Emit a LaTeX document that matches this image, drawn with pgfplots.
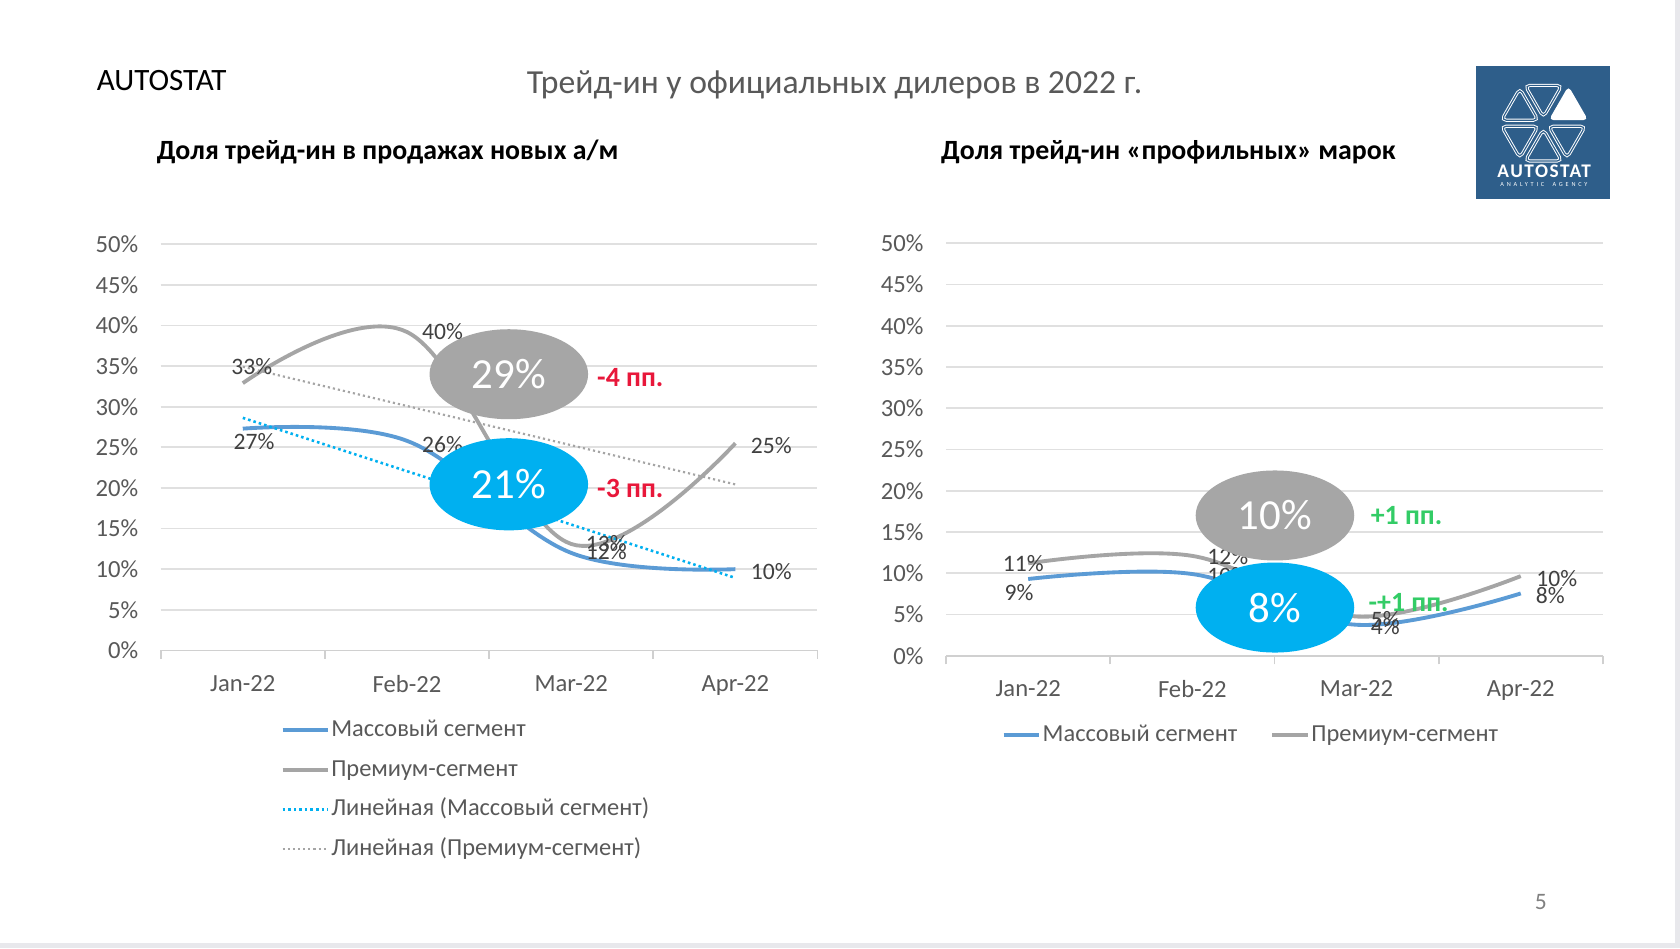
\documentclass[border=0pt]{standalone}
\usepackage{fontspec}
\setmainfont{Carlito}
\usepackage{pgfplots}
\pgfplotsset{compat=1.18}
\usetikzlibrary{calc}

\definecolor{massblue}{HTML}{5B9BD5}
\definecolor{premgrey}{HTML}{A5A5A5}
\definecolor{trendblue}{HTML}{00B0F0}
\definecolor{bubgrey}{HTML}{A6A6A6}
\definecolor{bubblue}{HTML}{00B0F0}
\definecolor{ticktext}{HTML}{595959}
\definecolor{labeltext}{HTML}{404040}
\definecolor{gridc}{HTML}{E0E0E0}
\definecolor{axisc}{HTML}{D0D0D0}
\definecolor{redt}{HTML}{E8173A}
\definecolor{greent}{HTML}{33CC66}
\definecolor{logoblue}{HTML}{2E5E8A}
\definecolor{framec}{HTML}{E8E8EC}

\pgfplotsset{
  mystyle/.style={
    scale only axis, width=306.5pt,
    xmin=0.5, xmax=4.5, ymin=0, ymax=50,
    axis x line*=bottom, axis y line*=left,
    y axis line style={draw=none},
    x axis line style={draw=axisc, line width=0.8pt},
    ytick={0,5,...,50},
    yticklabel={\pgfmathprintnumber{\tick}\%},
    xtick={1,2,3,4},
    xticklabels={Jan-22,Feb-22,Mar-22,Apr-22},
    minor xtick={0.5,1.5,2.5,3.5,4.5},
    major tick length=0pt, minor tick length=4pt, tick align=outside,
    tick style={draw=axisc, line width=0.8pt},
    ymajorgrids, grid style={draw=gridc, line width=0.8pt},
    tick label style={font=\fontsize{11.5}{13}\selectfont, text=ticktext},
    /pgf/number format/assume math mode=true,
    yticklabel style={xshift=-7pt},
    xticklabel style={yshift=-8pt},
    clip=false,
    legend style={draw=none, fill=none, inner sep=0pt, outer sep=0pt,
      font=\fontsize{11.4}{14}\selectfont, text=ticktext,
      nodes={inner sep=0pt, text height=8.5pt, text depth=2.5pt}},
    legend cell align=left,
  },
}
\tikzset{
  lbl/.style={font=\fontsize{11}{13}\selectfont, text=labeltext, inner sep=0pt},
  bubtxt/.style={font=\fontsize{20}{24}\selectfont, text=white, inner sep=0pt},
  dtxt/.style={font=\bfseries\fontsize{13}{15}\selectfont, inner sep=0pt, anchor=west},
}

\begin{document}
\begin{tikzpicture}
\useasboundingbox (0pt,0pt) rectangle (784pt,442.5pt);
\fill[framec] (0pt,0pt) rectangle (784pt,442.5pt);
\fill[white] (0pt,2.5pt) rectangle (781.5pt,442.5pt);

% titles
\node[anchor=west, inner sep=0pt, font=\fontsize{14.5}{18}\selectfont] at (45pt,405pt) {AUTOSTAT};
\node[inner sep=0pt, text=ticktext, font=\fontsize{15.7}{18}\selectfont] at (389.5pt,403pt) {Трейд-ин у официальных дилеров в 2022 г.};
\node[anchor=west, inner sep=0pt, font=\bfseries\fontsize{13}{15}\selectfont] at (73pt,371.5pt) {Доля трейд-ин в продажах новых а/м};
\node[anchor=west, inner sep=0pt, font=\bfseries\fontsize{13}{15}\selectfont] at (439pt,371.5pt) {Доля трейд-ин «профильных» марок};
\node[inner sep=0pt, text=gray, font=\fontsize{11}{13}\selectfont] at (719pt,21.5pt) {5};

% logo
\fill[logoblue] (689pt,349.5pt) rectangle (751.5pt,411.5pt);
\foreach \m in {90,150,210,270,330} {
  \draw[white, line width=0.45pt, double=logoblue, double distance=0.55pt, rounded corners=2.2pt]
    (720.25pt,385pt) ++(\m:12.7pt) +(\m+180:9.9pt) -- +(\m+60:9.9pt) -- +(\m-60:9.9pt) -- cycle;
}
\fill[white, rounded corners=2.2pt]
    (720.25pt,385pt) ++(30:13.5pt) +(210:10.6pt) -- +(90:10.6pt) -- +(-30:10.6pt) -- cycle;
\node[inner sep=0pt, text=white, font=\bfseries\fontsize{9}{10}\selectfont\addfontfeature{LetterSpace=8}] at (720.6pt,362.4pt) {AUTOSTAT};
\node[inner sep=0pt, text=white, font=\fontsize{2.9}{3}\selectfont\addfontfeature{LetterSpace=45}] at (720.5pt,356.6pt) {ANALYTIC\ \ AGENCY};

% left chart
\begin{axis}[mystyle, at={(75pt,139pt)}, anchor=south west, height=189.5pt,
  legend image code/.code={\draw[#1] (0pt,0pt) -- (21pt,0pt);},
  legend style={at={(0.1827,-0.167)}, anchor=north west, row sep=7.5pt,
    /tikz/every odd column/.style={column sep=0.8pt}}]
\addplot[massblue, line width=1.8pt, smooth, tension=0.6] coordinates {(1,27.3) (2,25.8) (3,12.0) (4,10.0)};
\addlegendentry{Массовый сегмент}
\addplot[premgrey, line width=1.8pt, smooth, tension=0.6] coordinates {(1,32.9) (2,39.2) (3,13.1) (4,25.5)};
\addlegendentry{Премиум-сегмент}
\addplot[trendblue, line width=1.2pt, dash pattern=on 1.2pt off 1.4pt] coordinates {(1,28.63) (4,8.92)};
\addlegendentry{Линейная (Массовый сегмент)}
\addplot[premgrey, line width=1pt, dash pattern=on 1pt off 1.4pt] coordinates {(1,34.92) (4,20.43)};
\addlegendentry{Линейная (Премиум-сегмент)}
\node[lbl] at (axis cs:1.055,34.96) {33\%};
\node[lbl] at (axis cs:1.068,25.73) {27\%};
\node[lbl] at (axis cs:2.216,39.3) {40\%};
\node[lbl] at (axis cs:2.216,25.3) {26\%};
\node[lbl] at (axis cs:3.214,13.19) {13\%};
\node[lbl] at (axis cs:3.214,12.14) {12\%};
\node[lbl] at (axis cs:4.219,25.2) {25\%};
\node[lbl] at (axis cs:4.219,9.76) {10\%};
\fill[bubgrey] (axis cs:2.62,34.0) ellipse [x radius=37pt, y radius=21pt];
\node[bubtxt] at (axis cs:2.62,34.0) {29\%};
\fill[bubblue] (axis cs:2.62,20.45) ellipse [x radius=37pt, y radius=21.5pt];
\node[bubtxt] at (axis cs:2.62,20.45) {21\%};
\node[dtxt, text=redt] at (axis cs:3.156,33.64) {-4 пп.};
\node[dtxt, text=redt] at (axis cs:3.156,19.92) {-3 пп.};
\end{axis}

% right chart
\begin{axis}[mystyle, at={(441.5pt,136.5pt)}, anchor=south west, height=192.5pt,
  legend columns=2,
  legend image code/.code={\draw[#1] (0pt,0pt) -- (16.5pt,0pt);},
  legend style={at={(0.0848,-0.164)}, anchor=north west,
    /tikz/every odd column/.style={column sep=0.8pt},
    /tikz/every even column/.style={column sep=15.5pt}}]
\addplot[massblue, line width=1.8pt, smooth, tension=0.6] coordinates {(1,9.3) (2,9.9) (3,3.75) (4,7.55)};
\addlegendentry{Массовый сегмент}
\addplot[premgrey, line width=1.8pt, smooth, tension=0.6] coordinates {(1,11.2) (2,12.1) (3,4.75) (4,9.65)};
\addlegendentry{Премиум-сегмент}
\node[lbl] at (axis cs:0.970,11.17) {11\%};
\node[lbl] at (axis cs:0.944,7.66) {9\%};
\node[lbl] at (axis cs:2.216,12.08) {12\%};
\node[lbl] at (axis cs:2.216,9.74) {10\%};
\node[lbl] at (axis cs:3.175,4.42) {5\%};
\node[lbl] at (axis cs:3.175,3.5) {4\%};
\node[lbl] at (axis cs:4.219,9.35) {10\%};
\node[lbl] at (axis cs:4.18,7.27) {8\%};
\fill[bubgrey] (axis cs:2.503,17.0) ellipse [x radius=37pt, y radius=21pt];
\node[bubtxt] at (axis cs:2.503,17.0) {10\%};
\fill[bubblue] (axis cs:2.503,5.84) ellipse [x radius=37pt, y radius=21pt];
\node[bubtxt] at (axis cs:2.503,5.84) {8\%};
\node[dtxt, text=greent] at (axis cs:3.084,17.0) {+1 пп.};
\node[dtxt, text=greent] at (axis cs:3.071,6.49) {-+1 пп.};
\end{axis}
\end{tikzpicture}
\end{document}
